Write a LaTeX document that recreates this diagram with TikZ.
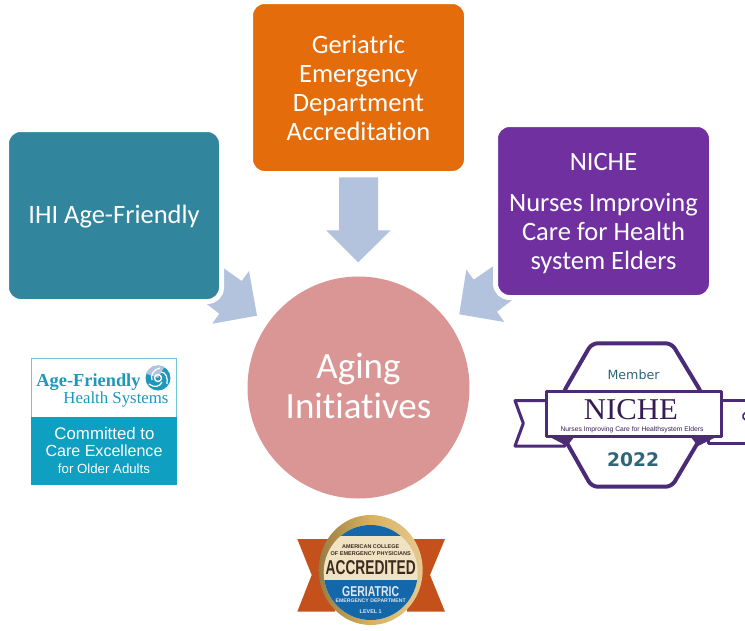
\documentclass[tikz,border=0pt]{standalone}
\usepackage{fontspec}
\usepackage{graphicx}
\setmainfont{Carlito}[Ligatures=NoCommon]
\newfontfamily\logosans{Liberation Sans}
\newfontfamily\logoserif{Liberation Serif}
\newfontfamily\logowide{DejaVu Sans}
\newcommand{\fitw}[2]{\resizebox{#1pt}{!}{#2}}
\newcommand{\fitwh}[3]{\resizebox{#1pt}{#2pt}{#3}}
\definecolor{arrowblue}{HTML}{B3C2DD}
\definecolor{tealbox}{HTML}{31859C}
\definecolor{orangebox}{HTML}{E46C0A}
\definecolor{purplebox}{HTML}{7030A0}
\definecolor{circlepink}{HTML}{D99694}
\definecolor{afblue}{HTML}{0F9FC1}
\definecolor{aftext}{HTML}{1E97BC}
\definecolor{nichepurple}{HTML}{4B2A78}
\definecolor{nicheteal}{HTML}{2F6579}
\definecolor{ribbonred}{HTML}{C4501C}
\definecolor{gold}{HTML}{D9B25F}
\definecolor{beige}{HTML}{EFE3C4}
\definecolor{acepblue}{HTML}{1467A8}
\definecolor{acepbrown}{HTML}{3C2A1E}
\tikzset{
  initbox/.style={draw=white,line width=5pt,rounded corners=14pt,minimum width=216pt,text=white,
     align=center,font=\fontsize{26.5}{29}\selectfont,inner sep=0pt},
  blockarrow/.style={fill=arrowblue,draw=none},
  nichepath/.style={draw=nichepurple,line width=4pt,line join=round},
  lbl/.style={inner sep=0pt,align=center}
}
\begin{document}
\begin{tikzpicture}[x=1pt,y=-1pt]
\useasboundingbox (0,0) rectangle (745,630);
\clip (0,0) rectangle (745,630);
\fill[white] (0,0) rectangle (745,630);
% block arrows
\fill[blockarrow] (339,177.3) -- (378,177.3) -- (378,230.3) -- (390.7,230.3) -- (358.3,262.3) -- (326.3,230.3) -- (339,230.3) -- cycle;
\fill[blockarrow] (257,315.7) -- (249,271) -- (241.7,281) -- (215,262) -- (195,295) -- (219.3,313.7) -- (212.3,323.7) -- cycle;
\fill[blockarrow] (459.3,314.3) -- (466.3,269.7) -- (473.7,279.7) -- (505,258) -- (525,290) -- (497,311.7) -- (504.3,322) -- cycle;
% boxes
\node[initbox,fill=tealbox,minimum width=215pt,minimum height=172pt] (ihi) at (114,215.5) {\rule{0pt}{21pt}IHI Age-Friendly};
\node[initbox,fill=orangebox,minimum height=172pt] (ged) at (358.5,87.5) {Geriatric\\Emergency\\Department\\Accreditation};
\node[initbox,fill=purplebox,minimum height=173pt] (niche) at (603.5,211) {\rule{0pt}{22pt}NICHE\\[12pt]Nurses Improving\\Care for Health\\system Elders};
% circle
\node[circle,fill=circlepink,minimum size=222pt,inner sep=0pt,text=white,align=center,
      font=\fontsize{37}{40}\selectfont] (aging) at (358.5,387.5) {Aging\\Initiatives\rule[-4pt]{0pt}{1pt}};
% Age-Friendly logo
\fill[white] (31,358.5) rectangle (176.5,416.7);
\draw[draw=afblue!60,line width=1pt] (31,358.5) rectangle (176.5,484.5);
\fill[afblue] (31,416.7) rectangle (176.5,484.5);
\node[lbl,text=aftext] (afname) at (88.5,382) {\fitw{104}{\logoserif\bfseries Age-Friendly}};
\node[lbl,text=aftext] (afhealth) at (116,399.5) {\fitw{105}{\logoserif Health Systems}};
\fill[aftext] (158,378) circle (12.5);
\fill[arrowblue] (158,378) +(200:12.5) arc (200:300:12.5) -- (158,378) -- cycle;
\draw[white,line width=1.4pt] (158,378) circle (3.5);
\draw[white,line width=1.2pt] (161,372) .. controls (166,372) and (168,378) .. (167,384);
\draw[white,line width=1.2pt] (152,380) .. controls (150,375) and (154,369) .. (160,368);
\draw[white,line width=1.2pt] (162,382) .. controls (160,387) and (154,388) .. (149,384);
\node[lbl,text=white] (af1) at (104.5,433.5) {\fitw{100}{\logosans Committed to}};
\node[lbl,text=white] (af2) at (104,450.5) {\fitw{117}{\logosans Care Excellence}};
\node[lbl,text=white] (af3) at (104,468.5) {\fitw{92}{\logosans for Older Adults}};
% NICHE badge
\draw[nichepath,line width=3pt,fill=white] (546.7,400.7) -- (515,400.7) -- (523.3,423.3) -- (515,446) -- (565,446) -- (565,436) -- (546.7,436) -- cycle;
\draw[nichepath,line width=3pt,fill=white] (721.7,400.7) -- (750,400.7) -- (750,443.5) -- (708,443.5) -- (708,436) -- (721.7,436) -- cycle;
\draw[nichepath,fill=white,rounded corners=6pt] (563,393) -- (591.7,343.3) -- (671.7,343.3) -- (701.7,393) -- (701.7,436) -- (671.7,486.7) -- (591.7,486.7) -- (563,436) -- cycle;
\fill[nichepurple] (548,436) -- (575,436) -- (567,446) -- cycle;
\fill[nichepurple] (718,436) -- (690,436) -- (698,446) -- cycle;
\draw[nichepath,line width=3pt,fill=white] (546.7,391.7) rectangle (721.7,436.7);
\draw[draw=nichepurple,line width=1.6pt,line cap=round] (745.5,420) arc (110:250:4);
\node[lbl,text=nicheteal] (nmember) at (633.5,375) {\fitw{52}{\logowide Member}};
\node[lbl,text=nichepurple!70!black] (nname) at (631,409.5) {\fitwh{94}{20}{\logoserif NICHE}};
\node[lbl,text=nichepurple!70!black] (nsub) at (632,430) {\fitw{143}{\logosans Nurses Improving Care for Healthsystem Elders}};
\node[lbl,text=nicheteal] (nyear) at (633,460) {\fitw{52}{\logowide\bfseries 2022}};
% ACEP badge
\fill[ribbonred] (297.3,539) -- (335,539) -- (335,611.7) -- (297.3,611.7) -- (311.7,575) -- cycle;
\fill[ribbonred] (445,539) -- (407,539) -- (407,611.7) -- (445,611.7) -- (430,575) -- cycle;
\shade[left color=gold!70!black,right color=gold!70!white,middle color=gold] (370.7,570) ellipse (52 and 55);
\begin{scope}
\clip (370.7,572.5) ellipse (47 and 47.5);
\fill[beige] (320,515) rectangle (425,630);
\fill[acepblue] (320,515) rectangle (425,535.5);
\fill[acepblue] (320,580) rectangle (425,630);
\end{scope}
\node[lbl,text=acepbrown] (a1) at (370.7,546.5) {\fitw{57}{\logosans\bfseries AMERICAN COLLEGE}};
\node[lbl,text=acepbrown] (a2) at (370.7,553.5) {\fitw{80}{\logosans\bfseries OF EMERGENCY PHYSICIANS}};
\node[lbl,text=acepbrown] (a3) at (370.7,567.5) {\fitwh{90}{14}{\logosans\bfseries ACCREDITED}};
\node[lbl,text=white!85!acepblue] (a4) at (370.7,592) {\fitwh{57}{10}{\logosans\bfseries GERIATRIC}};
\node[lbl,text=white!85!acepblue] (a5) at (370.7,601) {\fitw{70}{\logosans\bfseries EMERGENCY DEPARTMENT}};
\node[lbl,text=white!85!acepblue] (a6) at (370.7,611.5) {\fitw{22}{\logosans\bfseries LEVEL 1}};
\end{tikzpicture}
\end{document}
